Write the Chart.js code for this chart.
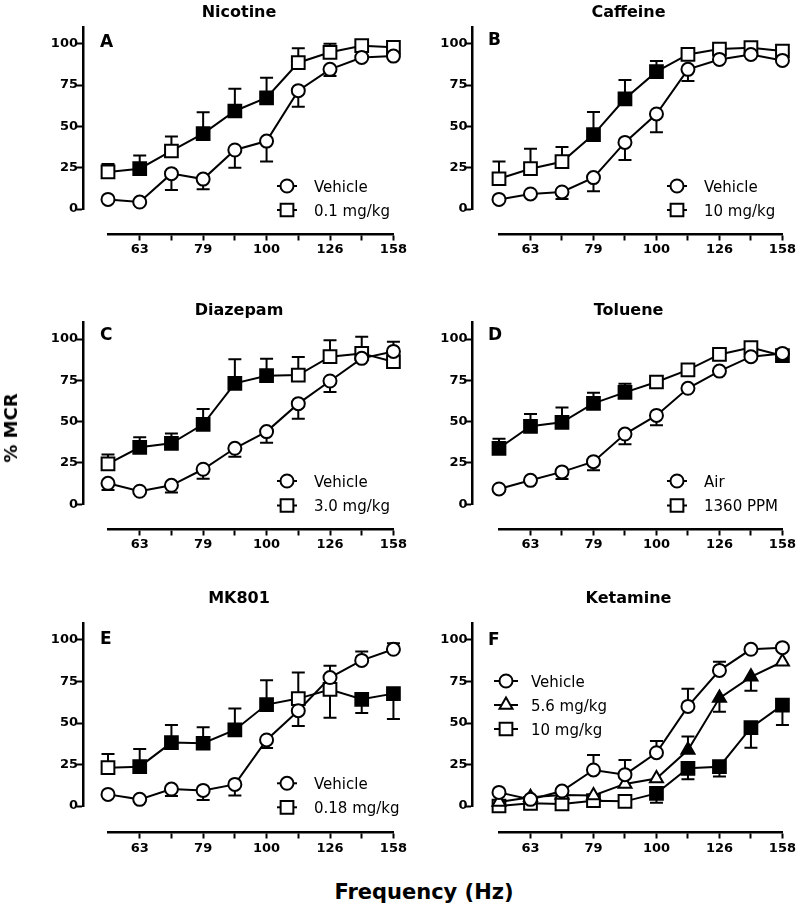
<!DOCTYPE html>
<html><head><meta charset="utf-8">
<script src="https://cdn.jsdelivr.net/npm/chart.js@4.4.1/dist/chart.umd.min.js"></script>
<style>
html,body{margin:0;padding:0;background:#fff;}
#wrap{position:relative;width:799px;height:907px;overflow:hidden;background:#fff;}
canvas{position:absolute;}
.lbl{position:absolute;font-family:'DejaVu Sans',sans-serif;font-weight:bold;color:#000;white-space:nowrap;line-height:1;transform:translate(-50%,-50%);}
</style></head>
<body><div id="wrap">
<canvas id="c0"></canvas><canvas id="c1"></canvas>
<canvas id="c2"></canvas><canvas id="c3"></canvas>
<canvas id="c4"></canvas><canvas id="c5"></canvas>
<div class="lbl" style="left:11px;top:428px;font-size:18px;transform:translate(-50%,-50%) rotate(-90deg);">% MCR</div>
<div class="lbl" style="left:424px;top:892px;font-size:21px;">Frequency (Hz)</div>
</div>
<script>
// ---- categories / ticks ----
const freqLabels = ['56','63','71','79','89','100','112','126','141','158'];
const labeledFreqs = ['63','79','100','126','158'];
const yTickValues = [0,25,50,75,100];

// ---- A: Nicotine ----
const nicVehicle    = [5.8, 4.2, 21.4, 18.1, 35.7, 41.1, 71.6, 84.5, 91.7, 92.5];
const nicVehicleErr = [null, null, 11.5, 11.9, 25, 28.8, 61.9, 80.4, null, null];
const nicDrug       = [22.4, 24.4, 35.1, 45.6, 59.3, 67.3, 88.5, 94.8, 98.8, 97.8];
const nicDrugErr    = [27.2, 32.3, 43.8, 58.5, 72.8, 79.4, 97.2, 100, null, null];
const nicDrugSig    = [0,1,0,1,1,1,0,0,0,0];

// ---- B: Caffeine ----
const cafVehicle    = [5.8, 9.1, 10.3, 19, 40.3, 57.5, 84.5, 90.5, 93.5, 89.9];
const cafVehicleErr = [null, null, 6, 10.7, 29.6, 46.4, 77.4, null, null, null];
const cafDrug       = [18.3, 24.4, 28.6, 45, 66.7, 83.1, 93.5, 96.8, 97.6, 95.6];
const cafDrugErr    = [28.8, 36.5, 37.5, 58.7, 78, 89.5, null, null, null, null];
const cafDrugSig    = [0,0,0,1,1,1,0,0,0,0];

// ---- C: Diazepam ----
const diaVehicle    = [12.7, 7.9, 11.5, 21.2, 33.9, 44, 60.9, 74.6, 88.3, 92.5];
const diaVehicleErr = [8.7, null, 7.1, 15.5, 28.8, 37.3, 51.8, 67.9, null, null];
const diaDrug       = [24.4, 34.5, 36.9, 48.4, 73.2, 77.8, 78.2, 89.3, 91.3, 86.3];
const diaDrugErr    = [30.2, 40.5, 42.9, 57.7, 87.7, 88.1, 89.1, 99.2, 101.4, 98.4];
const diaDrugSig    = [0,1,1,1,1,1,0,0,0,0];

// ---- D: Toluene ----
const tolAir        = [9.3, 14.5, 19.6, 25.8, 42.5, 53.8, 70.2, 80.6, 89.3, 91.3];
const tolAirErr     = [null, null, 15.3, 20.6, 36.3, 47.8, null, null, null, null];
const tolPpm        = [33.9, 47.2, 49.6, 61.1, 67.7, 74, 81.3, 90.7, 94.8, 89.9];
const tolPpmErr     = [39.7, 54.6, 58.5, 67.5, 73, 77, null, null, null, null];
const tolPpmSig     = [1,1,1,1,1,0,0,0,0,1];

// ---- E: MK801 ----
const mkVehicle     = [7, 4, 10.2, 9.4, 13, 39.8, 57.4, 77.4, 87.7, 94.4];
const mkVehicleErr  = [null, null, 6, 3.6, 6.4, 34.9, 48.2, 84.5, 93.1, 98];
const mkDrug        = [23.1, 23.7, 38.2, 37.8, 45.8, 61.1, 64.7, 70.2, 64.3, 67.7];
const mkDrugErr     = [31.3, 34.3, 48.8, 47.4, 58.8, 75.8, 80.4, 53.2, 56, 52.4];
const mkDrugSig     = [0,1,1,1,1,1,0,0,1,1];

// ---- F: Ketamine ----
const ketVehicle    = [8.2, 4, 9, 21.7, 18.9, 32.1, 60, 81.7, 94.4, 95.4];
const ketVehicleErr = [null, null, null, 30.7, 27.7, 39.2, 70.6, 86.9, null, null];
const ketLow        = [2.4, 5.2, 6.6, 6.4, 13.3, 16.5, 33.7, 65, 77.8, 86.9];
const ketLowErr     = [null, null, null, null, null, null, 41.8, 56.8, 69.4, null];
const ketLowSig     = [0,0,0,0,0,0,1,1,1,0];
const ketHigh       = [0, 1.6, 1.2, 3.2, 2.8, 7.6, 22.7, 23.7, 47.2, 60.8];
const ketHighErr    = [null, null, null, null, null, 2, 16.1, 17.7, 35.1, 48.8];
const ketHighSig    = [0,0,0,0,0,1,1,1,1,1];

const noSig = [0,0,0,0,0,0,0,0,0,0];

// ---- layout (page pixels) ----
const COLS = [
  {cx:0,   cw:410, yAxisX:83,  yLabelRight:78,  xL:108, xR:395, letterX:100, legX:287, legTextX:314},
  {cx:410, cw:389, yAxisX:472, yLabelRight:467.5, xL:499, xR:785, letterX:488, legX:677, legTextX:704}
];
const ROWS = [
  {cy:0,   ch:285, yTop:27.2,  y0:209,   xAxisY:234.3},
  {cy:285, ch:300, yTop:322.5, y0:504.3, xAxisY:529.3},
  {cy:585, ch:290, yTop:623.4, y0:806,   xAxisY:832.7}
];
const STYLE = {circle:6.5, rect:9, triangle:7.5};
const FONT = "'DejaVu Sans', sans-serif";

const panels = [
  {col:0,row:0,title:'Nicotine',titleY:11.5,letter:'A',letterY:41,legY:186,legDy:24,legHalf:10,
   series:[{label:'Vehicle',v:nicVehicle,e:nicVehicleErr,s:noSig,st:'circle'},
           {label:'0.1 mg/kg',v:nicDrug,e:nicDrugErr,s:nicDrugSig,st:'rect'}]},
  {col:1,row:0,title:'Caffeine',titleY:11.5,letter:'B',letterY:39,legY:186,legDy:24,legHalf:10,
   series:[{label:'Vehicle',v:cafVehicle,e:cafVehicleErr,s:noSig,st:'circle'},
           {label:'10 mg/kg',v:cafDrug,e:cafDrugErr,s:cafDrugSig,st:'rect'}]},
  {col:0,row:1,title:'Diazepam',titleY:309,letter:'C',letterY:334,legY:481,legDy:24.5,legHalf:10,
   series:[{label:'Vehicle',v:diaVehicle,e:diaVehicleErr,s:noSig,st:'circle'},
           {label:'3.0 mg/kg',v:diaDrug,e:diaDrugErr,s:diaDrugSig,st:'rect'}]},
  {col:1,row:1,title:'Toluene',titleY:309,letter:'D',letterY:334,legY:481,legDy:24.5,legHalf:10,
   series:[{label:'Air',v:tolAir,e:tolAirErr,s:noSig,st:'circle'},
           {label:'1360 PPM',v:tolPpm,e:tolPpmErr,s:tolPpmSig,st:'rect'}]},
  {col:0,row:2,title:'MK801',titleY:597,letter:'E',letterY:637.5,legY:783.3,legDy:24,legHalf:10,
   series:[{label:'Vehicle',v:mkVehicle,e:mkVehicleErr,s:noSig,st:'circle'},
           {label:'0.18 mg/kg',v:mkDrug,e:mkDrugErr,s:mkDrugSig,st:'rect'}]},
  {col:1,row:2,title:'Ketamine',titleY:597,letter:'F',letterY:639,legY:681,legDy:24,legHalf:12,legXo:506,legTextXo:531,
   series:[{label:'Vehicle',v:ketVehicle,e:ketVehicleErr,s:noSig,st:'circle'},
           {label:'5.6 mg/kg',v:ketLow,e:ketLowErr,s:ketLowSig,st:'triangle'},
           {label:'10 mg/kg',v:ketHigh,e:ketHighErr,s:ketHighSig,st:'rect'}]}
];

panels.forEach((p, idx) => {
  const C = COLS[p.col], R = ROWS[p.row];
  const cv = document.getElementById('c' + idx);
  cv.width = C.cw; cv.height = R.ch;
  cv.style.left = C.cx + 'px'; cv.style.top = R.cy + 'px';
  const pxPerX = (C.xR - C.xL) / 9;
  const pxPerY = (R.y0 - R.yTop) / 110;
  const yAxisAt = (C.yAxisX - C.xL) / pxPerX;
  const xAxisAt = -(R.xAxisY - R.y0) / pxPerY;
  const ox = C.cx, oy = R.cy;
  const labelScaleW = C.xL - ox;
  const tickFont = {family: FONT, size: 13, weight: 'bold'};

  const datasets = p.series.map(s => ({
    label: s.label,
    data: s.v.map((y, i) => ({x: i, y: y})),
    errEnd: s.e,
    pointStyle: s.st,
    pointRadius: STYLE[s.st],
    pointHoverRadius: STYLE[s.st],
    pointBackgroundColor: s.s.map(f => f ? '#000' : '#fff'),
    pointBorderColor: '#000',
    pointBorderWidth: 2,
    borderColor: '#000',
    borderWidth: 2,
    backgroundColor: '#fff',
    fill: false, tension: 0, clip: false
  }));

  const overlay = {
    id: 'overlay' + idx,
    beforeDatasetsDraw(chart) {
      const ctx = chart.ctx, xs = chart.scales.x, ys = chart.scales.y;
      ctx.save();
      ctx.strokeStyle = '#000'; ctx.lineWidth = 2;
      chart.data.datasets.forEach(ds => {
        ds.data.forEach((pt, i) => {
          const e = ds.errEnd[i];
          if (e === null || e === undefined) return;
          const x = xs.getPixelForValue(pt.x);
          const y1 = ys.getPixelForValue(pt.y);
          const y2 = ys.getPixelForValue(e);
          ctx.beginPath();
          ctx.moveTo(x, y1); ctx.lineTo(x, y2);
          ctx.moveTo(x - 6.5, y2); ctx.lineTo(x + 6.5, y2);
          ctx.stroke();
        });
      });
      ctx.restore();
    },
    afterDraw(chart) {
      const ctx = chart.ctx;
      ctx.save();
      ctx.fillStyle = '#000';
      ctx.font = 'bold 16px ' + FONT;
      ctx.textAlign = 'center'; ctx.textBaseline = 'alphabetic';
      ctx.fillText(p.title, (C.yAxisX + C.xR) / 2 - ox, p.titleY + 5.8 - oy);
      ctx.font = 'bold 17px ' + FONT;
      ctx.textAlign = 'left';
      ctx.fillText(p.letter, C.letterX - ox, p.letterY + 6.2 - oy);
      const lx = (p.legXo || C.legX) - ox;
      const tx = (p.legTextXo || C.legTextX) - ox;
      ctx.font = '15px ' + FONT;
      chart.data.datasets.forEach((ds, k) => {
        const y = p.legY + k * p.legDy - oy;
        ctx.strokeStyle = '#000'; ctx.lineWidth = 2;
        ctx.beginPath(); ctx.moveTo(lx - p.legHalf, y); ctx.lineTo(lx + p.legHalf, y); ctx.stroke();
        ctx.fillStyle = '#fff';
        Chart.helpers.drawPoint(ctx, {pointStyle: ds.pointStyle, radius: ds.pointRadius, rotation: 0, borderWidth: 2}, lx, y);
        ctx.fillStyle = '#000';
        ctx.fillText(ds.label, tx, y + 5.5);
      });
      ctx.restore();
    }
  };

  new Chart(cv, {
    type: 'line',
    data: {datasets},
    options: {
      responsive: false, animation: false, events: [],
      layout: {padding: {left: 0, right: ox + C.cw - C.xR, top: R.yTop - oy, bottom: oy + R.ch - R.y0}},
      plugins: {legend: {display: false}, tooltip: {enabled: false}, title: {display: false}},
      scales: {
        x: {
          type: 'linear', min: 0, max: 9,
          position: {y: xAxisAt},
          afterBuildTicks: s => { s.ticks = freqLabels.map((f, i) => ({value: i})).filter(t => t.value > 0); },
          ticks: {
            autoSkip: false, maxRotation: 0, padding: 3, color: '#000', font: tickFont,
            callback: v => labeledFreqs.includes(freqLabels[v]) ? freqLabels[v] : ''
          },
          grid: {display: true, drawOnChartArea: false, drawTicks: true, tickLength: 5, tickWidth: 2, tickColor: '#000'},
          border: {display: true, color: '#000', width: 2.5}
        },
        y: {
          type: 'linear', min: 0, max: 110,
          position: {x: yAxisAt},
          afterBuildTicks: s => { s.ticks = yTickValues.map(v => ({value: v})); },
          ticks: {display: false},
          grid: {display: true, drawOnChartArea: false, drawTicks: true, tickLength: 5, tickWidth: 2, tickColor: '#000'},
          border: {display: true, color: '#000', width: 2.5}
        },
        yLabels: {
          type: 'linear', min: 0, max: 110, position: 'left',
          afterBuildTicks: s => { s.ticks = yTickValues.map(v => ({value: v})); },
          afterFit: s => { s.width = labelScaleW; s.paddingTop = 0; s.paddingBottom = 0; s.paddingLeft = 0; s.paddingRight = 0; },
          ticks: {padding: C.xL - C.yLabelRight, color: '#000', font: tickFont},
          grid: {display: false, drawTicks: false},
          border: {display: false}
        }
      }
    },
    plugins: [overlay]
  });
});
</script>
</body></html>
